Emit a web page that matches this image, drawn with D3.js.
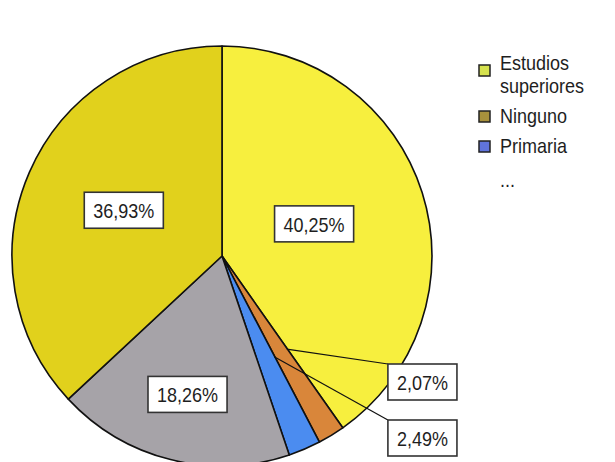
<!DOCTYPE html>
<html>
<head>
<meta charset="utf-8">
<script src="https://cdn.jsdelivr.net/npm/d3@7"></script>
<style>
  html, body { margin: 0; padding: 0; background: #ffffff; }
  svg { display: block; }
  text { font-family: "Liberation Sans", Arial, sans-serif; fill: #1e1e1e; }
</style>
</head>
<body>
<svg id="chart" width="615" height="462"></svg>
<script>
// Nivel de estudios: share of each group, in percent, clockwise from 12 o'clock
const categories = ["Estudios superiores", "Ninguno", "Primaria", "Secundaria", "Bachillerato"];
const shares = [40.25, 2.07, 2.49, 18.26, 36.93];
// Only the first entries fit in the legend box; the rest are elided
const legendCount = 3;
const legendEllipsis = "...";

const sliceColors = ["#f7ef3e", "#d9863a", "#4b8cf0", "#a6a3a8", "#e1d11c"];
const swatchColors = ["#d6e24e", "#a8913c", "#6074dc"];

const W = 615, H = 462;
const cx = 222, cy = 256, R = 210;
const condense = 0.9; // horizontal squeeze of the narrow UI face

const svg = d3.select("#chart");

const esLocale = d3.formatLocale({ decimal: ",", thousands: ".", grouping: [3], currency: ["", " €"] });
const pct = v => esLocale.format(".2f")(v) + "%";

const pie = d3.pie().sort(null).value(d => d.value).startAngle(0).endAngle(2 * Math.PI);
const data = categories.map((c, i) => ({ name: c, value: shares[i], i }));
const arcs = pie(data);

const arc = d3.arc().innerRadius(0).outerRadius(R);

const g = svg.append("g").attr("transform", `translate(${cx},${cy})`);

g.selectAll("path.slice")
  .data(arcs)
  .join("path")
  .attr("class", "slice")
  .attr("d", arc)
  .attr("fill", d => sliceColors[d.data.i])
  .attr("stroke", "#111")
  .attr("stroke-width", 1.6)
  .attr("stroke-linejoin", "round");

// point on a radius at a given angle (d3 convention: 0 = up, clockwise)
const polar = (a, rr) => [Math.sin(a) * rr, -Math.cos(a) * rr];

// condensed text placed at (x, y)
function squeezed(sel, x, y) {
  return sel.attr("x", 0).attr("y", 0)
    .attr("transform", `translate(${x},${y}) scale(${condense},1)`);
}

// Label layout: big slices get an inside box, thin slices a callout box on the right
const insideRadius = { 0: 0.46, 3: 0.67, 4: 0.51 };
const insideShift = { 0: -3, 3: 2, 4: -3 };
const calloutTop = { 1: 108, 2: 164 };
const calloutLeft = 0.79 * R;
const boxH = 36, padX = 9;

const labels = g.append("g");

arcs.forEach(d => {
  const i = d.data.i;
  const txt = pct(d.data.value);
  const lg = labels.append("g");
  const t = lg.append("text")
    .attr("font-size", 20)
    .attr("text-anchor", "middle")
    .attr("dominant-baseline", "central")
    .text(txt);
  const tw = t.node().getComputedTextLength() * condense;
  const bw = tw + 2 * padX;
  let bx, by;
  if (insideRadius[i] !== undefined) {
    const mid = (d.startAngle + d.endAngle) / 2;
    const [px, py] = polar(mid, insideRadius[i] * R);
    bx = px - bw / 2;
    by = py - boxH / 2 + insideShift[i];
  } else {
    bx = calloutLeft;
    by = calloutTop[i];
    // leader from the slice's leading edge to the box corner
    const [lx, ly] = polar(d.startAngle + 0.004, 0.54 * R);
    labels.insert("line", ":first-child")
      .attr("x1", lx).attr("y1", ly)
      .attr("x2", bx).attr("y2", by)
      .attr("stroke", "#111").attr("stroke-width", 1.2);
  }
  lg.insert("rect", "text")
    .attr("x", bx).attr("y", by)
    .attr("width", bw).attr("height", boxH)
    .attr("fill", "#ffffff")
    .attr("stroke", "#333")
    .attr("stroke-width", 1.6);
  squeezed(t, bx + bw / 2, by + boxH / 2 + 1);
});

// Legend
const legend = svg.append("g").attr("transform", "translate(479,0)");
const legendFont = 20;
let y = 70;
categories.slice(0, legendCount).forEach((name, i) => {
  const words = name.split(" ");
  const row = legend.append("g");
  row.append("rect")
    .attr("x", 0).attr("y", i === 0 ? y - 5 : y - 12)
    .attr("width", 11).attr("height", 11)
    .attr("fill", swatchColors[i])
    .attr("stroke", "#222").attr("stroke-width", 1.5);
  const t = squeezed(row.append("text").attr("font-size", legendFont), 21, y);
  words.forEach((w, k) => {
    t.append("tspan").attr("x", 0).attr("dy", k === 0 ? 0 : 23).text(w);
  });
  y += 23 * (words.length - 1) + 30;
});
squeezed(legend.append("text").attr("font-size", legendFont), 21, y + 4)
  .text(legendEllipsis);
</script>
</body>
</html>
